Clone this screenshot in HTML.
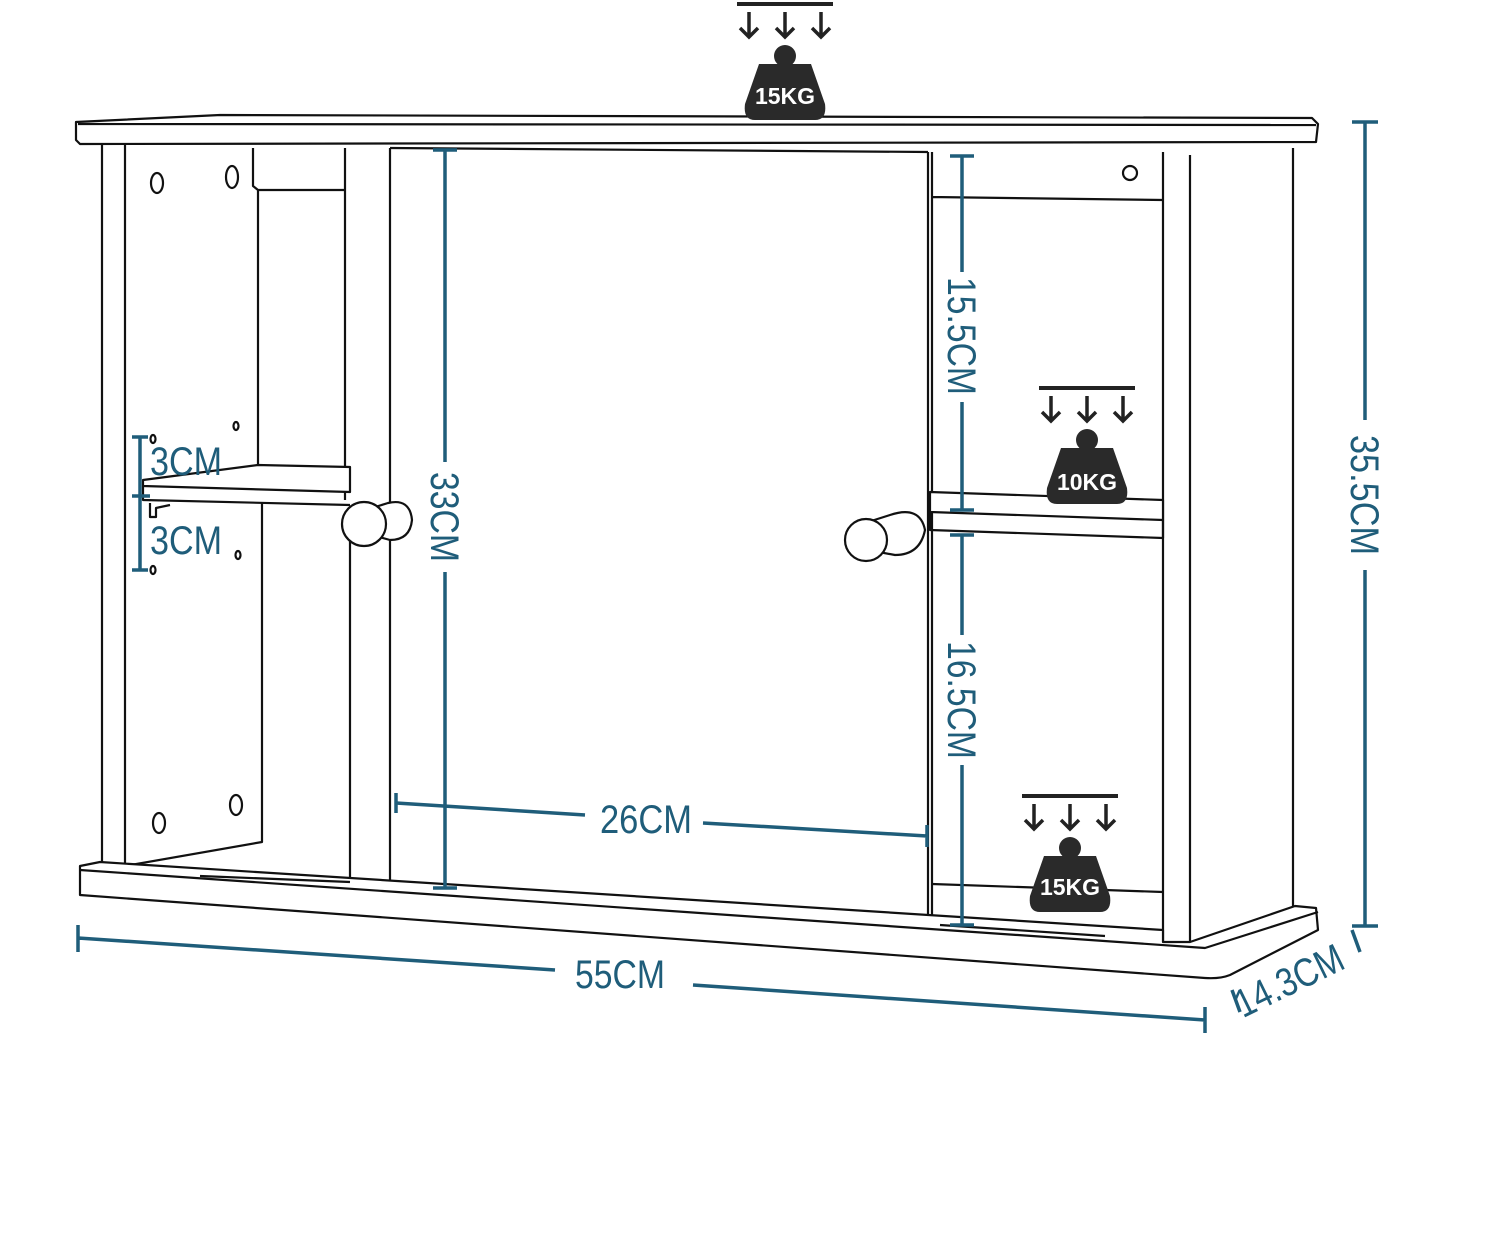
<!DOCTYPE html>
<html><head><meta charset="utf-8"><style>
html,body{margin:0;padding:0;background:#fff;}
svg{display:block}
.l{fill:none;stroke:#111;stroke-width:2.2;stroke-linejoin:round}
.f{fill:#fff;stroke:#111;stroke-width:2.2;stroke-linejoin:round}
.d{stroke:#1f5d7a;stroke-width:3.5;fill:none}
.t{fill:#1f5d7a;font-family:"Liberation Sans Narrow","Liberation Sans",sans-serif;font-size:40px}
.w{fill:#fff;font-family:"Liberation Sans",sans-serif;font-weight:bold;font-size:23px}
</style></head><body>
<svg width="1500" height="1245" viewBox="0 0 1500 1245" xmlns="http://www.w3.org/2000/svg">
<defs>
<g id="wt">
  <line x1="-48" y1="0" x2="48" y2="0" stroke="#222" stroke-width="4"/>
  <g stroke="#222" stroke-width="3.5" fill="none">
    <path d="M-36 8 V32 M-45 24 L-36 33 L-27 24"/>
    <path d="M0 8 V32 M-9 24 L0 33 L9 24"/>
    <path d="M36 8 V32 M27 24 L36 33 L45 24"/>
  </g>
  <circle cx="0" cy="52" r="11" fill="#2a2a2a"/>
  <path d="M-26 60 H26 L40 100 Q42 116 30 116 H-30 Q-42 116 -40 100 Z" fill="#2a2a2a"/>
</g>
</defs>

<!-- top board -->
<path class="f" d="M76 122 L220 115 L1312 118 L1318 124 L1316 142 L80 144 L76 140 Z"/>
<line class="l" x1="78" y1="124" x2="1316" y2="125"/>

<!-- left side panel -->
<path class="l" d="M102 145 V868 M125 145 V866"/>
<path class="l" d="M253 148 V186 L258 190 H345 M258 190 V465 M262 503 V842 L125 866"/>
<path class="l" d="M345 148 V500 M350 540 V882 M390 148 V885"/>
<path class="f" d="M143 480 L258 465 L350 467 L350 492 L143 486 Z"/>
<path class="l" d="M143 486 L143 500 L350 505"/>
<path class="l" d="M150 503 V517 L156 517 V508 L170 505"/>
<ellipse class="l" cx="157" cy="183" rx="6" ry="10"/>
<ellipse class="l" cx="232" cy="177" rx="6" ry="11"/>
<ellipse class="l" cx="159" cy="823" rx="6" ry="10"/>
<ellipse class="l" cx="236" cy="805" rx="6" ry="10"/>
<ellipse class="l" cx="236" cy="426" rx="2.5" ry="4"/>
<ellipse class="l" cx="238" cy="555" rx="2.5" ry="4"/>
<ellipse class="l" cx="153" cy="439" rx="2.5" ry="4"/>
<ellipse class="l" cx="153" cy="570" rx="2.5" ry="4"/>

<!-- center door -->
<path class="l" d="M390 148 L928 152 M928 152 V925"/>
<path class="f" d="M372 508 L388 503 Q410 498 412 520 Q410 540 390 540 L372 535 Z"/>
<circle class="f" cx="364" cy="524" r="22"/>
<path class="f" d="M868 522 L890 515 Q920 505 925 530 Q920 555 895 555 L868 550 Z"/>
<circle class="f" cx="866" cy="540" r="21"/>

<!-- right compartment -->
<path class="l" d="M932 152 V925 M932 197 L1163 200 M1163 152 V942 M1190 155 V942 M1293 148 V920"/>
<circle class="l" cx="1130" cy="173" r="7"/>
<path class="f" d="M930 492 L1163 500 L1163 520 L930 512 Z"/>
<path class="l" d="M930 512 L930 530 L1163 538 L1163 520"/>
<path class="l" d="M932 884 L1163 892"/>

<!-- base -->
<path class="f" d="M80 866 L100 862 L1163 930 L1163 942 L1190 942 L1295 906 L1316 908 L1318 930 L1230 975 Q1220 979 1205 978 L80 895 Z"/>
<path class="l" d="M80 870 L1205 948 L1318 912"/>
<path class="l" d="M200 876 L350 882 M940 925 L1105 936"/>

<!-- dimensions -->
<g class="d">
  <path d="M78 925 V952 M78 938 L555 970 M693 985 L1205 1020 M1205 1007 V1033"/>
  <path d="M1352 122 H1378 M1365 122 V420 M1365 570 V926 M1352 926 H1378"/>
  <path d="M433 150 H457 M445 150 V462 M445 572 V888 M433 888 H457"/>
  <path d="M950 156 H974 M962 156 V272 M962 402 V510 M950 510 H974"/>
  <path d="M950 535 H974 M962 535 V635 M962 765 V925 M950 925 H974"/>
  <path d="M396 793 V813 M396 803 L585 815 M703 823 L927 836 M927 825 V847"/>
  <path d="M132 437 H148 M140 437 V570 M132 570 H148 M132 496 H150"/>
  <path d="M1232 990 L1240 1012 M1352 930 L1360 952"/>
</g>
<text class="t" x="150" y="475" textLength="72" lengthAdjust="spacingAndGlyphs">3CM</text>
<text class="t" x="150" y="554" textLength="72" lengthAdjust="spacingAndGlyphs">3CM</text>
<text class="t" x="575" y="988" textLength="90" lengthAdjust="spacingAndGlyphs">55CM</text>
<text class="t" x="600" y="833" textLength="92" lengthAdjust="spacingAndGlyphs">26CM</text>
<text class="t" transform="translate(1295,993) rotate(-26)" x="-58" textLength="116" lengthAdjust="spacingAndGlyphs">14.3CM</text>
<text class="t" transform="translate(1351,495) rotate(90)" x="-60" textLength="120" lengthAdjust="spacingAndGlyphs">35.5CM</text>
<text class="t" transform="translate(431,517) rotate(90)" x="-45" textLength="90" lengthAdjust="spacingAndGlyphs">33CM</text>
<text class="t" transform="translate(948,336) rotate(90)" x="-59" textLength="118" lengthAdjust="spacingAndGlyphs">15.5CM</text>
<text class="t" transform="translate(948,700) rotate(90)" x="-59" textLength="118" lengthAdjust="spacingAndGlyphs">16.5CM</text>

<use href="#wt" x="785" y="4"/>
<text class="w" x="785" y="104" text-anchor="middle">15KG</text>
<use href="#wt" x="1087" y="388"/>
<text class="w" x="1087" y="490" text-anchor="middle">10KG</text>
<use href="#wt" x="1070" y="796"/>
<text class="w" x="1070" y="895" text-anchor="middle">15KG</text>
</svg>
</body></html>
